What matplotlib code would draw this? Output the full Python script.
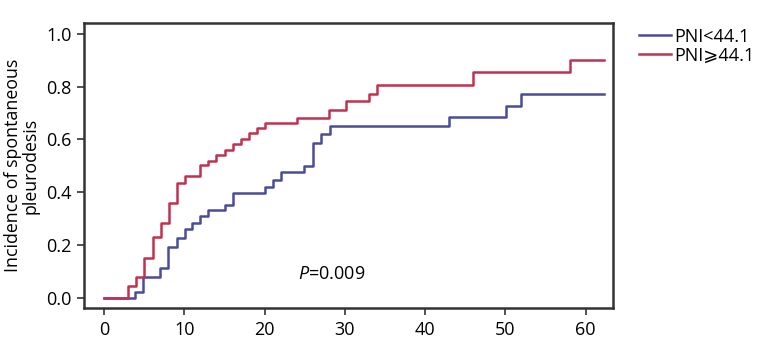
import matplotlib
matplotlib.use("Agg")
import matplotlib.pyplot as plt

plt.rcParams['font.family'] = ['Open Sans', 'DejaVu Sans']
plt.rcParams['mathtext.fontset'] = 'custom'
plt.rcParams['mathtext.it'] = 'Open Sans:italic'
plt.rcParams['mathtext.rm'] = 'Open Sans'

# step times (months) and cumulative incidence
low_t = [0, 3.9, 4.9, 7.0, 8.0, 9.1, 10.1, 11.0, 12.0, 13.0, 15.1, 16.1,
         20.0, 21.1, 22.1, 24.9, 26.0, 27.0, 28.1, 43.0, 50.1, 52.0, 62.3]
low_y = [0, 0.024, 0.081, 0.114, 0.194, 0.226, 0.26, 0.283, 0.31, 0.333,
         0.352, 0.396, 0.42, 0.447, 0.476, 0.50, 0.588, 0.62, 0.652, 0.687,
         0.727, 0.773, 0.773]

high_t = [0, 3.0, 4.0, 5.0, 6.1, 7.1, 8.1, 9.1, 10.1, 12.0, 13.0, 14.0,
          15.1, 16.1, 17.1, 18.1, 19.0, 20.0, 24.0, 28.0, 30.1, 33.0, 34.0,
          46.0, 58.0, 62.3]
high_y = [0, 0.044, 0.081, 0.15, 0.232, 0.284, 0.36, 0.435, 0.46, 0.504,
          0.52, 0.542, 0.56, 0.583, 0.60, 0.625, 0.645, 0.662, 0.68, 0.71,
          0.744, 0.773, 0.807, 0.855, 0.902, 0.902]

labels = ['PNI<44.1', 'PNI\u2a7e44.1']
colors = ['#4b4b9b', '#c2304f']

fig = plt.figure(figsize=(7.66, 3.52), dpi=100)
ax = fig.add_axes([0.1097, 0.124, 0.690, 0.810])

ax.step(low_t, low_y, where='post', color=colors[0], lw=1.8, label=labels[0])
ax.step(high_t, high_y, where='post', color=colors[1], lw=1.8, label=labels[1])

ax.set_xlim(-2.5, 63.35)
ax.set_ylim(-0.039, 1.04)
ax.set_xticks([0, 10, 20, 30, 40, 50, 60])
ax.set_yticks([0.0, 0.2, 0.4, 0.6, 0.8, 1.0])
ax.set_yticklabels(['0.0', '0.2', '0.4', '0.6', '0.8', '1.0'])
ax.tick_params(direction='out', length=5, width=1.2, labelsize=13,
               color='#333333', pad=4)
for s in ax.spines.values():
    s.set_linewidth(1.8)
    s.set_color('#333333')

ax.set_ylabel('Incidence of spontaneous\npleurodesis', fontsize=12.8,
              linespacing=0.9, labelpad=5)

ax.text(24.2, 0.09, '$P$=0.009', fontsize=13, va='center', ha='left')

ax.legend(loc='upper left', bbox_to_anchor=(1.037, 1.01), frameon=False,
          fontsize=13, handlelength=1.75, handletextpad=0.2,
          labelspacing=0.05, borderaxespad=0)

fig.savefig('out.png', dpi=100)
